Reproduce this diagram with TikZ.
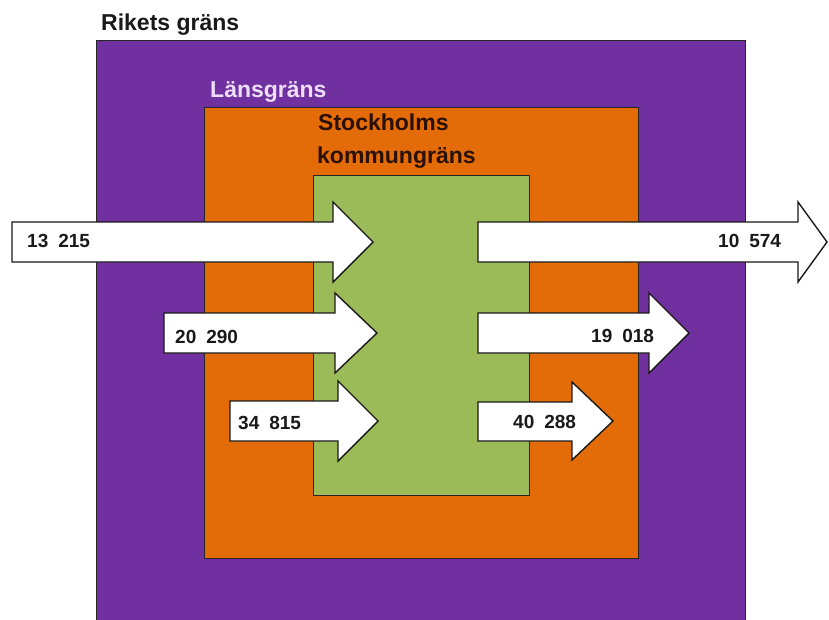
\documentclass[tikz,border=0pt]{standalone}
\usepackage{fontspec}
\setmainfont{Liberation Sans}
\definecolor{rikpurple}{HTML}{7030A0}
\definecolor{lanorange}{HTML}{E36C09}
\definecolor{komgreen}{HTML}{9BBB59}
\definecolor{lantext}{HTML}{EEDDF8}
\definecolor{komtext}{HTML}{2A1005}
\tikzset{
  region/.style={draw=black!85, line width=0.9pt},
  flow/.style={draw=black!90, fill=white, line width=1.4pt, line join=miter},
  title/.style={font=\bfseries\fontsize{23}{28}\selectfont, inner sep=0pt, anchor=base west},
  num/.style={font=\bfseries\fontsize{19}{22}\selectfont, inner sep=0pt, anchor=west, text=black!90},
}
\newcommand{\blockarrow}[7]{% x0, ytop, ybot, xbase, htop, hbot, xtip
  \draw[flow] (#1,#2) -- (#4,#2) -- (#4,#5) -- (#7,{(#5+#6)/2}) -- (#4,#6) -- (#4,#3) -- (#1,#3) -- cycle;}
\begin{document}
\begin{tikzpicture}[x=1pt,y=-1pt]
\useasboundingbox (0,0) rectangle (829,619);
% regions
\draw[region, fill=rikpurple] (96,40) rectangle (745,625);
\draw[region, fill=lanorange] (204,107) rectangle (638,558);
\draw[region, fill=komgreen] (313,175) rectangle (529,495);
% titles
\node[title, text=black!90] (rike) at (101,30) {Rikets gräns};
\node[title, text=lantext] (lan) at (210,97) {Länsgräns};
\node[title, text=komtext] (kom1) at (318,130) {Stockholms};
\node[title, text=komtext] (kom2) at (317,163) {kommungräns};
% inflow arrows
\blockarrow{12}{222}{262}{333}{202}{282}{373}
\blockarrow{164}{313}{353}{335}{293}{373}{377}
\blockarrow{230}{401}{441}{338}{381}{461}{378}
% outflow arrows
\blockarrow{478}{222}{262}{798}{202}{282}{827}
\blockarrow{478}{313}{353}{649}{293}{373}{689}
\blockarrow{478}{402}{441}{572}{382}{460}{613}
% numbers
\node[num] (in1) at (27,241) {13\hspace{10pt}215};
\node[num] (in2) at (175,337) {20\hspace{10pt}290};
\node[num] (in3) at (238,423) {34\hspace{10pt}815};
\node[num] (out1) at (718,241) {10\hspace{10pt}574};
\node[num] (out2) at (591,336) {19\hspace{10pt}018};
\node[num] (out3) at (513,422) {40\hspace{10pt}288};
\end{tikzpicture}
\end{document}
